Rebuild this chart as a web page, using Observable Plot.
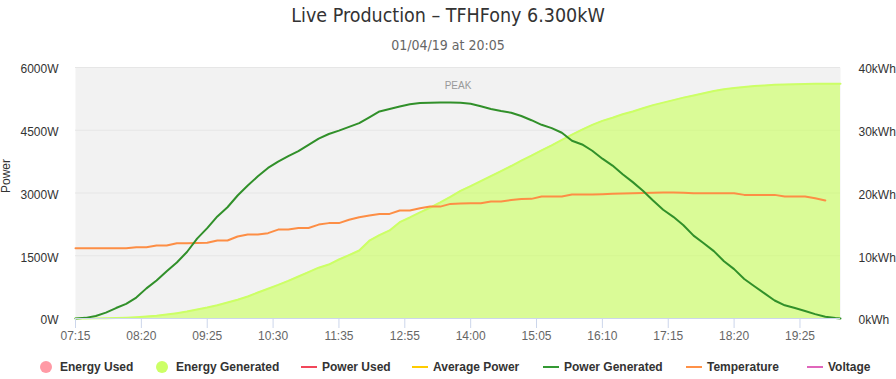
<!DOCTYPE html>
<html>
<head>
<meta charset="utf-8">
<script src="https://cdn.jsdelivr.net/npm/d3@7"></script>
<script src="https://cdn.jsdelivr.net/npm/@observablehq/plot@0.6"></script>
<style>
  html, body { margin: 0; padding: 0; background: #fff; overflow: hidden; }
  #wrap { width: 896px; position: relative; }
  #head { position: relative; height: 57px; }
  #title { position: absolute; left: 0; width: 896px; top: 5px; text-align: center;
           font-family: "Liberation Sans Narrow", "DejaVu Sans Condensed", "Liberation Sans", sans-serif;
           font-size: 19.5px; line-height: 22px; color: #333; }
  #subtitle { position: absolute; left: 0; width: 896px; top: 38px; text-align: center;
           font-family: "Liberation Sans Narrow", "DejaVu Sans Condensed", "Liberation Sans", sans-serif;
           font-size: 14px; line-height: 14px; color: #666; }
  #legend { position: relative; height: 32px; font-family: "Liberation Sans", Arial, sans-serif;
            font-weight: bold; font-size: 12px; color: #333; }
  .item { position: absolute; top: 12px; height: 16px; line-height: 16px; white-space: nowrap; }
  .dot { position: absolute; top: 2px; width: 12px; height: 12px; border-radius: 6px; }
  .ln { position: absolute; top: 7px; width: 16px; height: 2px; }
  svg { display: block; }
</style>
</head>
<body>
<div id="wrap">
  <div id="head">
    <div id="title">Live Production – TFHFony 6.300kW</div>
    <div id="subtitle">01/04/19 at 20:05</div>
  </div>
  <div id="chart"></div>
  <div id="legend"></div>
</div>
<script>
// ---- data ----
// x categories: 5-minute readings, indexed 0..151; a tick label every 13 readings
const tickLabels = ["07:15","08:20","09:25","10:30","11:35","12:55","14:00","15:05","16:10","17:15","18:20","19:25"];
const tickEvery = 13;
const lastIndex = 151;

// sampled every 2 readings (0,2,...,150) plus the final reading (151)
const powerGeneratedW = [
  0, 15, 60, 140, 250, 350, 500, 720, 910, 1130,
  1340, 1590, 1910, 2160, 2440, 2660, 2940, 3180, 3400, 3600,
  3750, 3880, 4000, 4150, 4300, 4410, 4490, 4580, 4670, 4810,
  4950, 5010, 5070, 5120, 5150, 5160, 5165, 5165, 5155, 5135,
  5075, 5010, 4960, 4920, 4840, 4740, 4630, 4550, 4440, 4250,
  4160, 4010, 3820, 3655, 3450, 3260, 3055, 2820, 2600, 2430,
  2230, 1980, 1800, 1610, 1370, 1180, 945, 770, 600, 430,
  315, 250, 180, 105, 40, 10, 0
];
const energyGeneratedKWh = [
  0, 0.01, 0.02, 0.05, 0.08, 0.13, 0.2, 0.3, 0.42, 0.62,
  0.85, 1.1, 1.45, 1.75, 2.1, 2.55, 3.0, 3.5, 4.15, 4.75,
  5.35, 6.0, 6.7, 7.4, 8.1, 8.6, 9.4, 10.1, 10.84, 12.4,
  13.3, 14.03, 15.35, 16.1, 16.9, 17.65, 18.5, 19.4, 20.35, 21.1,
  21.9, 22.7, 23.5, 24.3, 25.15, 25.95, 26.8, 27.6, 28.45, 29.3,
  30.1, 30.85, 31.5, 32.0, 32.55, 33.0, 33.5, 34.0, 34.4, 34.8,
  35.2, 35.55, 35.9, 36.25, 36.55, 36.75, 36.9, 37.05, 37.15, 37.25,
  37.3, 37.35, 37.38, 37.4, 37.42, 37.43, 37.43
];
const temperatureC = [
  16.8, 16.8, 16.8, 16.8, 16.8, 16.8, 17.05, 17.05, 17.45, 17.45,
  18.0, 18.0, 18.05, 18.1, 18.65, 18.65, 19.6, 20.1, 20.1, 20.4,
  21.25, 21.25, 21.65, 21.65, 22.45, 22.8, 22.8, 23.6, 24.2, 24.6,
  25.0, 25.0, 25.8, 25.8, 26.35, 26.75, 26.75, 27.4, 27.5, 27.55,
  27.55, 27.95, 27.95, 28.3, 28.55, 28.6, 29.15, 29.15, 29.15, 29.65,
  29.65, 29.65, 29.7, 29.8, 29.9, 29.95, 30.0, 30.05, 30.1, 30.1,
  30.05, 29.95, 29.95, 29.95, 29.95, 29.95, 29.55, 29.55, 29.55, 29.55,
  29.15, 29.15, 29.15, 28.75, 28.2, null, null
];
const powerTicks = [0, 1500, 3000, 4500, 6000];
const energyMax = 40;   // right axis 0..40 kWh
const tempMax = 60;     // hidden temperature axis 0..60 °C

const legendItems = [
  {name: "Energy Used", color: "#ff9aa5", kind: "dot", x: 40},
  {name: "Energy Generated", color: "#ccff66", kind: "dot", x: 156},
  {name: "Power Used", color: "#f2475a", kind: "line", x: 301},
  {name: "Average Power", color: "#ffcc00", kind: "line", x: 412},
  {name: "Power Generated", color: "#339933", kind: "line", x: 543},
  {name: "Temperature", color: "#ff9147", kind: "line", x: 686},
  {name: "Voltage", color: "#e066bb", kind: "line", x: 807}
];

// ---- build ----
const slots = d3.range(0, lastIndex, 2).concat([lastIndex]);
const rows = slots.map((s, i) => ({
  s, p: powerGeneratedW[i], e: energyGeneratedKWh[i], t: temperatureC[i]
}));
const pMax = 6000;
const eToY = d => d.e * pMax / energyMax;
const tToY = d => d.t == null ? NaN : d.t * pMax / tempMax;
const tickIdx = tickLabels.map((_, i) => i * tickEvery);

const FONT = '"Liberation Sans", Arial, sans-serif';
const chart = Plot.plot({
  width: 896,
  height: 290,
  marginTop: 10,
  marginBottom: 29,
  marginLeft: 75,
  marginRight: 56,
  style: {fontFamily: FONT, fontSize: "12px", background: "transparent", overflow: "visible"},
  x: {domain: [0, lastIndex]},
  y: {domain: [0, pMax]},
  marks: [
    Plot.frame({fill: "#f2f2f2", stroke: null}),
    Plot.gridY(powerTicks, {stroke: "#e6e6e6", strokeOpacity: 1}),
    Plot.text(["PEAK"], {frameAnchor: "top", dy: 14, fill: "#999", fontSize: 10}),
    Plot.areaY(rows, {x: "s", y: eToY, fill: "#ccff66", fillOpacity: 0.65}),
    Plot.lineY(rows, {x: "s", y: eToY, stroke: "#ccff66", strokeWidth: 2}),
    Plot.lineY(rows, {x: "s", y: tToY, stroke: "#fd8e45", strokeWidth: 2}),
    Plot.lineY(rows, {x: "s", y: "p", stroke: "#31902a", strokeWidth: 2}),
    Plot.ruleY([0], {stroke: "#ccd6eb"}),
    Plot.axisX({ticks: tickIdx, tickFormat: d => tickLabels[Math.round(d / tickEvery)],
      tickSize: 10, tickPadding: 3, stroke: "#ccd6eb", fill: "#666", label: null, fontSize: 12}),
    Plot.axisY({ticks: powerTicks, anchor: "left", tickSize: 0, tickPadding: 17,
      tickFormat: d => d + "W", fill: "#333", label: null, dy: 2}),
    Plot.axisY({ticks: powerTicks, anchor: "right", tickSize: 0, tickPadding: 18,
      tickFormat: d => (d * energyMax / pMax) + "kWh", fill: "#333", label: null, dy: 2}),
    Plot.text(["Power"], {frameAnchor: "left", dx: -69, rotate: -90, fill: "#333", fontSize: 12})
  ]
});
document.getElementById("chart").appendChild(chart);

const leg = document.getElementById("legend");
for (const it of legendItems) {
  const el = document.createElement("div");
  el.className = "item";
  el.style.left = it.x + "px";
  const m = document.createElement("span");
  m.className = it.kind === "dot" ? "dot" : "ln";
  m.style.background = it.color;
  m.style.left = "0px";
  el.appendChild(m);
  const t = document.createElement("span");
  t.textContent = it.name;
  t.style.marginLeft = (it.kind === "dot" ? 20 : 21) + "px";
  el.appendChild(t);
  leg.appendChild(el);
}
</script>
</body>
</html>
